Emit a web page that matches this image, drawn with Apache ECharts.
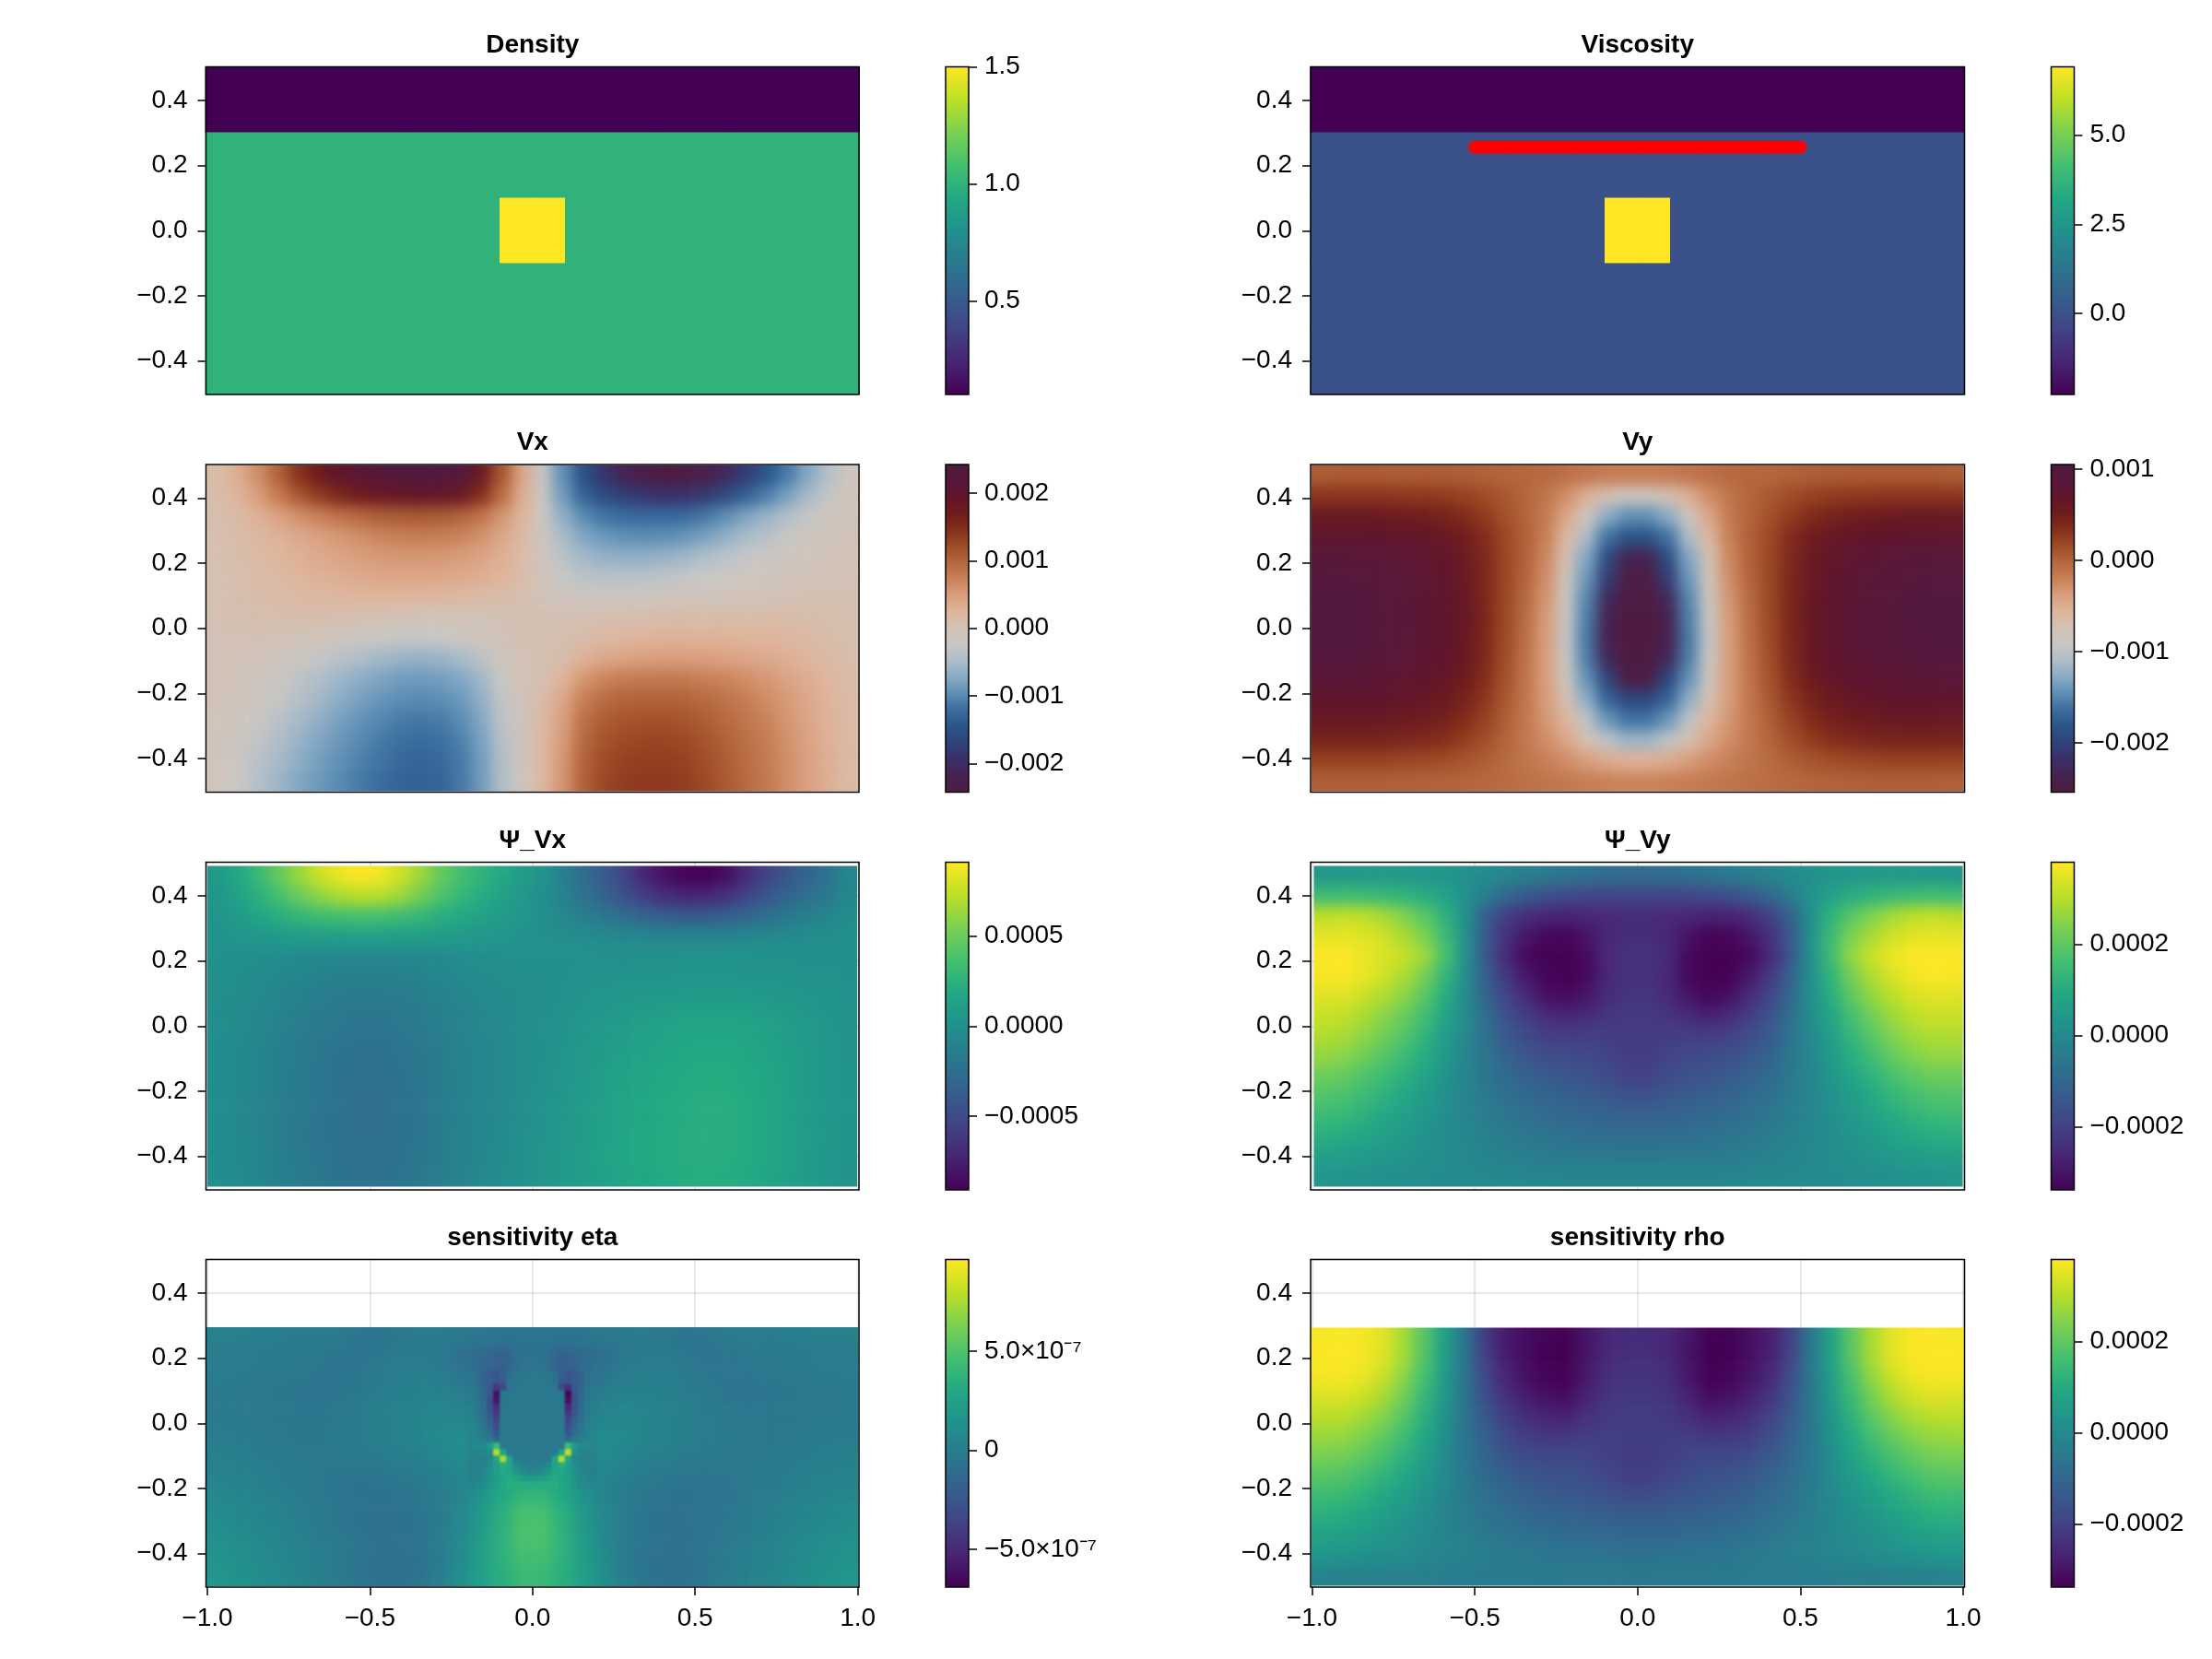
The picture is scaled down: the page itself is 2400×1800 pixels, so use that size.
<!DOCTYPE html>
<html><head><meta charset="utf-8"><style>html,body{margin:0;padding:0;background:#fff}#c{width:2400px;height:1800px}</style>
<script src="https://cdn.jsdelivr.net/npm/echarts@6/dist/echarts.min.js"></script></head>
<body><div id="c"></div><script>
const densityRows=[
[0.1,0.1,0.1,0.1,0.1,0.1,0.1,0.1,0.1,0.1,0.1,0.1,0.1,0.1,0.1,0.1,0.1,0.1,0.1,0.1],
[0.1,0.1,0.1,0.1,0.1,0.1,0.1,0.1,0.1,0.1,0.1,0.1,0.1,0.1,0.1,0.1,0.1,0.1,0.1,0.1],
[1,1,1,1,1,1,1,1,1,1,1,1,1,1,1,1,1,1,1,1],
[1,1,1,1,1,1,1,1,1,1,1,1,1,1,1,1,1,1,1,1],
[1,1,1,1,1,1,1,1,1,1.5,1.5,1,1,1,1,1,1,1,1,1],
[1,1,1,1,1,1,1,1,1,1.5,1.5,1,1,1,1,1,1,1,1,1],
[1,1,1,1,1,1,1,1,1,1,1,1,1,1,1,1,1,1,1,1],
[1,1,1,1,1,1,1,1,1,1,1,1,1,1,1,1,1,1,1,1],
[1,1,1,1,1,1,1,1,1,1,1,1,1,1,1,1,1,1,1,1],
[1,1,1,1,1,1,1,1,1,1,1,1,1,1,1,1,1,1,1,1]];
const viscosityRows=[
[-2.27,-2.27,-2.27,-2.27,-2.27,-2.27,-2.27,-2.27,-2.27,-2.27,-2.27,-2.27,-2.27,-2.27,-2.27,-2.27,-2.27,-2.27,-2.27,-2.27],
[-2.27,-2.27,-2.27,-2.27,-2.27,-2.27,-2.27,-2.27,-2.27,-2.27,-2.27,-2.27,-2.27,-2.27,-2.27,-2.27,-2.27,-2.27,-2.27,-2.27],
[0,0,0,0,0,0,0,0,0,0,0,0,0,0,0,0,0,0,0,0],
[0,0,0,0,0,0,0,0,0,0,0,0,0,0,0,0,0,0,0,0],
[0,0,0,0,0,0,0,0,0,6.92,6.92,0,0,0,0,0,0,0,0,0],
[0,0,0,0,0,0,0,0,0,6.92,6.92,0,0,0,0,0,0,0,0,0],
[0,0,0,0,0,0,0,0,0,0,0,0,0,0,0,0,0,0,0,0],
[0,0,0,0,0,0,0,0,0,0,0,0,0,0,0,0,0,0,0,0],
[0,0,0,0,0,0,0,0,0,0,0,0,0,0,0,0,0,0,0,0],
[0,0,0,0,0,0,0,0,0,0,0,0,0,0,0,0,0,0,0,0]];
const redLineX=[-0.5,0.5];
const redLineY=[0.256,0.256];
// Vx, in units of 1e-5
const vxRows=[
[12,32,62,100,142,172,195,213,226,234,238,236,225,178,112,40,-28,-95,-150,-185,-215,-232,-238,-236,-228,-205,-175,-145,-112,-75,-42,-10],
[10,25,48,78,110,135,155,170,180,186,190,188,180,145,92,32,-25,-85,-130,-155,-172,-185,-190,-188,-178,-158,-133,-108,-80,-53,-29,-8],
[7,15,28,44,60,74,86,96,104,108,110,108,101,84,56,22,-20,-65,-98,-115,-122,-125,-125,-122,-113,-97,-78,-60,-43,-28,-15,-5],
[5,11,19,28,37,46,54,62,69,74,76,75,70,60,40,16,-15,-50,-75,-88,-95,-97,-96,-90,-80,-65,-50,-38,-26,-16,-9,-2],
[5,10,16,23,30,37,43,49,53,56,56,55,51,44,31,13,-12,-38,-55,-63,-66,-66,-62,-56,-47,-37,-28,-20,-13,-8,-4,-1],
[4,8,13,18,24,29,33,37,40,41,41,40,37,33,24,11,-8,-27,-36,-39,-39,-37,-33,-28,-23,-18,-13,-9,-6,-3,-1,1],
[4,7,10,13,16,18,20,21,22,22,21,20,18,14,9,5,-2,-10,-14,-16,-15,-13,-11,-9,-7,-5,-3,-1,1,3,4,4],
[3,5,7,8,8,7,5,3,0,-3,-4,-4,-4,-2,2,3,3,3,4,6,8,9,10,11,12,12,12,12,11,10,8,6],
[2,2,1,-1,-4,-8,-13,-18,-23,-26,-26,-24,-20,-12,-2,3,4,6,12,18,22,25,27,28,28,27,25,23,20,16,12,8],
[1,-1,-5,-11,-19,-28,-38,-47,-55,-61,-63,-60,-52,-36,-12,2,4,12,28,38,44,48,50,50,49,46,42,37,31,24,17,10],
[0,-5,-12,-22,-33,-45,-57,-68,-77,-84,-86,-83,-75,-56,-22,-1,6,26,55,70,77,80,80,79,75,70,63,54,44,34,22,12],
[-2,-8,-16,-27,-40,-54,-68,-80,-90,-97,-100,-97,-88,-66,-30,-7,13,40,75,92,100,102,102,100,95,86,76,64,52,39,26,14],
[-4,-13,-25,-38,-52,-66,-80,-92,-102,-110,-113,-110,-98,-74,-35,-8,16,47,88,106,114,117,117,114,107,96,84,71,56,42,27,15],
[-6,-17,-31,-46,-60,-75,-88,-100,-110,-118,-122,-119,-107,-80,-40,-10,18,52,95,115,123,127,127,123,115,103,90,76,60,45,30,16],
[-8,-21,-37,-52,-67,-81,-94,-106,-116,-124,-129,-125,-112,-84,-43,-11,19,55,100,121,130,133,133,129,120,107,93,78,62,46,31,17],
[-10,-25,-42,-58,-75,-88,-100,-112,-122,-130,-134,-130,-114,-86,-46,-13,20,58,104,126,135,138,138,134,125,111,97,81,64,48,32,17]];
// Vy, in units of 1e-5
const vyRows=[
[4,5,5,5,5,5,4,3,1,-1,-2,-4,-8,-12,-16,-18,-18,-16,-12,-8,-4,-2,-1,1,3,4,5,5,5,5,5,4],
[30,30,30,30,29,28,26,22,16,8,-1,-12,-28,-52,-72,-85,-85,-72,-52,-28,-12,-1,8,16,22,26,28,29,30,30,30,30],
[60,60,59,57,54,50,45,37,26,13,0,-16,-45,-85,-125,-145,-145,-125,-85,-45,-16,0,13,26,37,45,50,54,57,59,60,60],
[74,75,74,72,70,66,60,50,36,18,2,-20,-60,-110,-160,-182,-182,-160,-110,-60,-20,2,18,36,50,60,66,70,72,74,75,75],
[87,87,86,84,80,76,68,57,40,20,2,-24,-72,-130,-190,-235,-235,-190,-130,-72,-24,2,20,40,57,68,76,80,84,87,88,88],
[95,94,92,89,85,80,72,60,42,20,0,-28,-82,-140,-205,-250,-250,-205,-140,-82,-28,0,20,42,60,72,80,85,89,92,95,96],
[100,98,95,91,86,81,73,61,42,19,-4,-32,-88,-150,-225,-253,-253,-225,-150,-88,-32,-4,19,42,61,73,81,86,91,95,99,100],
[102,100,97,92,87,81,73,62,42,18,-6,-36,-93,-155,-238,-254,-254,-238,-155,-93,-36,-6,18,42,62,74,82,88,93,97,101,102],
[101,99,96,91,86,80,73,61,41,17,-8,-38,-96,-158,-240,-254,-254,-240,-158,-96,-38,-8,17,41,61,74,82,88,92,96,100,101],
[95,94,92,88,84,78,71,59,39,15,-10,-38,-93,-155,-228,-253,-253,-228,-155,-93,-38,-10,15,39,59,72,80,85,89,92,95,96],
[84,84,83,81,77,72,65,53,35,12,-12,-38,-85,-143,-195,-248,-248,-195,-143,-85,-38,-12,12,35,53,65,73,78,81,83,84,85],
[73,73,72,71,68,63,56,45,29,8,-13,-37,-72,-125,-170,-195,-195,-170,-125,-72,-37,-13,8,29,45,56,63,68,71,73,73,73],
[60,60,60,59,56,52,46,36,22,4,-14,-33,-58,-100,-140,-160,-160,-140,-100,-58,-33,-14,4,22,36,46,52,56,59,60,60,60],
[45,45,45,44,42,38,33,25,14,0,-14,-28,-45,-72,-100,-118,-118,-100,-72,-45,-28,-14,0,14,25,33,38,42,44,45,45,45],
[22,22,22,22,20,18,15,10,4,-4,-12,-20,-28,-38,-48,-55,-55,-48,-38,-28,-20,-12,-4,4,10,15,18,20,22,22,22,22],
[3,3,3,3,3,2,1,0,-2,-5,-8,-11,-14,-17,-20,-22,-22,-20,-17,-14,-11,-8,-5,-2,0,1,2,3,3,3,3,3]];
// Psi_Vx, in units of 1e-6
const psiVxRows=[
[60,170,310,470,620,770,860,905,880,780,640,470,360,260,180,90,10,-130,-270,-390,-540,-720,-830,-890,-905,-850,-700,-560,-440,-330,-230,-90],
[40,125,235,365,490,600,680,720,710,640,520,390,290,205,130,50,-10,-115,-220,-335,-465,-580,-675,-725,-715,-655,-550,-430,-335,-250,-175,-70],
[30,85,155,225,285,330,360,370,365,335,285,225,175,125,80,30,-10,-70,-135,-200,-265,-320,-365,-395,-395,-365,-310,-250,-190,-135,-90,-40],
[10,30,50,70,85,100,110,120,120,110,100,90,70,50,30,10,-5,-25,-45,-60,-70,-80,-90,-95,-95,-90,-80,-70,-55,-40,-25,-10],
[0,-5,-15,-30,-45,-60,-70,-75,-75,-70,-60,-45,-30,-20,-15,-10,-10,-10,-10,-5,-5,0,0,5,5,5,5,0,0,0,0,0],
[-10,-25,-45,-70,-90,-110,-125,-130,-130,-120,-105,-85,-65,-45,-35,-25,-15,-5,5,10,15,20,25,30,30,30,25,20,15,10,5,0],
[-15,-35,-60,-90,-115,-140,-160,-165,-165,-155,-135,-110,-85,-65,-45,-30,-15,0,15,30,45,55,65,75,80,80,70,60,45,30,20,5],
[-20,-45,-75,-105,-135,-165,-185,-195,-195,-185,-160,-130,-100,-75,-55,-35,-15,5,25,50,75,100,120,135,145,145,130,110,85,60,35,10],
[-20,-50,-80,-115,-150,-180,-200,-215,-215,-200,-175,-140,-110,-80,-60,-35,-10,15,40,70,100,125,145,160,170,170,155,130,100,70,40,15],
[-25,-55,-90,-125,-160,-190,-215,-225,-225,-210,-185,-150,-120,-85,-60,-30,-5,25,55,90,120,145,165,180,190,190,175,145,115,80,45,15],
[-25,-55,-90,-130,-165,-195,-220,-235,-235,-220,-190,-155,-125,-90,-60,-30,0,30,65,100,135,160,180,195,205,205,190,160,125,85,50,20],
[-25,-55,-95,-135,-170,-200,-225,-240,-240,-225,-195,-160,-125,-90,-55,-25,5,35,70,110,145,170,190,205,215,215,195,165,130,90,50,20],
[-25,-60,-95,-135,-170,-205,-230,-240,-240,-225,-195,-160,-125,-90,-55,-20,10,45,80,115,150,175,195,210,220,220,200,170,130,90,50,20],
[-25,-60,-95,-135,-175,-205,-230,-240,-240,-225,-195,-160,-120,-85,-50,-15,15,50,85,120,155,180,200,215,225,222,205,170,135,92,52,22],
[-25,-55,-90,-130,-170,-200,-225,-235,-235,-220,-190,-155,-115,-80,-45,-10,20,55,90,125,155,180,200,215,222,220,200,170,132,90,50,20],
[-20,-50,-85,-125,-160,-190,-215,-225,-225,-210,-180,-145,-110,-75,-40,-5,25,55,90,120,150,175,195,205,212,210,192,162,125,85,48,18]];
// Psi_Vy, in units of 1e-6
const psiVyRows=[
[35,42,45,45,42,38,30,15,0,-15,-30,-45,-60,-72,-82,-88,-88,-82,-72,-60,-45,-30,-15,0,15,30,38,42,45,45,42,35],
[150,155,150,140,125,105,70,20,-40,-100,-140,-165,-180,-190,-195,-195,-195,-195,-190,-180,-165,-140,-100,-40,20,70,105,125,140,150,155,150],
[305,315,305,280,240,190,120,15,-125,-210,-245,-265,-270,-262,-255,-250,-250,-255,-262,-272,-268,-245,-205,-120,15,120,190,240,280,305,315,305],
[350,355,345,325,285,235,145,15,-140,-240,-300,-325,-330,-300,-265,-250,-250,-265,-305,-335,-330,-300,-240,-140,15,145,235,285,325,345,355,350],
[378,380,360,340,315,270,165,20,-150,-255,-325,-338,-338,-320,-255,-240,-240,-258,-325,-338,-338,-325,-260,-150,15,150,260,320,360,378,380,378],
[370,375,355,325,285,225,130,10,-125,-225,-295,-330,-338,-320,-260,-240,-240,-265,-325,-338,-335,-290,-220,-120,15,125,225,290,335,365,378,372],
[345,345,320,290,250,190,100,5,-105,-195,-255,-310,-320,-295,-250,-232,-232,-255,-300,-330,-310,-250,-190,-100,10,105,195,260,305,335,348,345],
[320,312,285,250,210,155,75,0,-85,-165,-215,-250,-265,-250,-228,-220,-220,-232,-255,-275,-250,-210,-160,-80,5,80,160,220,270,305,320,318],
[295,285,255,220,180,125,55,-10,-75,-140,-180,-205,-210,-208,-212,-218,-218,-212,-208,-210,-200,-175,-135,-70,-5,60,130,190,240,275,292,292],
[262,250,220,185,145,100,40,-15,-65,-115,-150,-170,-175,-180,-195,-212,-212,-195,-180,-175,-165,-145,-110,-60,-10,45,105,155,205,240,260,260],
[215,205,178,148,112,75,25,-20,-60,-95,-120,-135,-148,-158,-175,-200,-200,-175,-158,-148,-132,-115,-90,-55,-15,30,80,120,165,195,215,215],
[180,170,145,115,85,50,15,-20,-50,-78,-98,-112,-122,-132,-145,-160,-160,-145,-132,-122,-110,-95,-75,-45,-15,20,55,92,130,158,178,180],
[145,135,112,88,62,35,8,-15,-40,-60,-75,-88,-96,-104,-112,-118,-118,-112,-104,-96,-86,-73,-58,-38,-12,12,40,68,95,122,142,145],
[107,98,82,65,45,25,5,-10,-27,-42,-55,-65,-72,-78,-82,-85,-85,-82,-78,-72,-63,-53,-40,-25,-8,8,28,48,70,90,105,107],
[65,60,50,40,28,16,4,-7,-18,-28,-36,-42,-47,-50,-53,-54,-54,-53,-50,-47,-42,-35,-27,-17,-5,6,18,30,43,55,63,65],
[30,27,22,18,13,8,3,-2,-6,-9,-12,-14,-15,-16,-17,-17,-17,-17,-16,-15,-14,-12,-9,-6,-2,3,8,13,18,22,27,30]];
// sensitivity eta, in units of 1e-9
const etaRows=[
[15,15,10,5,0,-5,-15,-40,-55,-30,-10,-15,-30,-45,-55,-50,-50,-55,-45,-30,-15,-10,-30,-55,-40,-15,-5,0,5,10,15,15],
[-5,-5,-10,-15,-25,-35,-50,-55,-30,-5,-10,-30,-90,-125,-190,-70,-70,-190,-125,-90,-30,-10,-5,-30,-55,-50,-35,-25,-15,-10,-5,-5],
[-10,-15,-20,-25,-35,-40,-50,-35,-10,10,15,-5,-40,-120,-230,-40,-40,-230,-120,-40,-5,15,10,-10,-35,-50,-40,-35,-25,-20,-15,-10],
[-15,-20,-25,-30,-40,-45,-40,-15,5,25,35,40,25,-60,-130,-25,-25,-130,-60,25,40,35,25,5,-15,-40,-45,-40,-30,-25,-20,-15],
[-15,-20,-25,-30,-35,-35,-20,0,15,35,55,70,60,-20,-100,-25,-25,-100,-20,60,70,55,35,15,0,-20,-35,-35,-30,-25,-20,-15],
[-5,-10,-15,-25,-30,-30,-15,0,15,35,60,85,110,70,-40,-25,-25,-40,70,110,85,60,35,15,0,-15,-30,-30,-25,-15,-10,-5],
[15,10,0,-10,-20,-25,-25,-15,0,15,30,55,90,150,220,60,60,220,150,90,55,30,15,0,-15,-25,-25,-20,-10,0,10,15],
[40,30,15,0,-15,-25,-40,-45,-40,-30,-10,20,60,130,260,200,200,260,130,60,20,-10,-30,-40,-45,-40,-25,-15,0,15,30,40],
[70,55,35,15,-5,-25,-45,-60,-65,-55,-35,-5,50,150,300,400,400,300,150,50,-5,-35,-55,-65,-60,-45,-25,-5,15,35,55,70],
[100,80,60,35,10,-15,-40,-60,-70,-65,-45,-5,70,190,350,480,480,350,190,70,-5,-45,-65,-70,-60,-40,-15,10,35,60,80,100],
[125,105,80,55,25,0,-30,-55,-75,-70,-50,-5,85,210,360,490,490,360,210,85,-5,-50,-70,-75,-55,-30,0,25,55,80,105,125],
[150,125,100,70,40,10,-20,-50,-75,-75,-55,0,100,225,360,460,460,360,225,100,0,-55,-75,-75,-50,-20,10,40,70,100,125,150],
[170,140,115,85,50,20,-10,-45,-75,-75,-50,10,115,235,340,420,420,340,235,115,10,-50,-75,-75,-45,-10,20,50,85,115,140,170]];
// fine cells around the block in sensitivity eta (x -0.2..0.2, y 0.16..-0.2), units of 1e-9
const etaDetailRows=[
[-50,-90,-145,-225,-240,-180,-90,-50,-35,-30,-30,-35,-50,-90,-180,-240,-225,-145,-90,-50],
[-40,-85,-160,-200,-250,-230,-70,-40,-28,-25,-25,-28,-40,-70,-230,-250,-200,-160,-85,-40],
[-25,-70,-150,-230,-420,-310,-40,-28,-25,-25,-25,-25,-28,-40,-330,-440,-230,-150,-70,-25],
[-10,-55,-130,-240,-620,-30,-25,-25,-25,-25,-25,-25,-25,-25,-30,-660,-240,-130,-55,-10],
[0,-40,-120,-280,-590,-28,-25,-25,-25,-25,-25,-25,-25,-25,-28,-620,-280,-120,-40,0],
[15,-30,-110,-270,-480,-28,-25,-25,-25,-25,-25,-25,-25,-25,-28,-500,-270,-110,-30,15],
[30,-15,-95,-240,-420,-25,-25,-25,-25,-25,-25,-25,-25,-25,-25,-420,-240,-95,-15,30],
[40,0,-75,-190,-360,-25,-25,-25,-25,-25,-25,-25,-25,-25,-25,-360,-190,-75,0,40],
[50,15,-50,-140,-300,-25,-25,-25,-25,-25,-25,-25,-25,-25,-25,-300,-140,-50,15,50],
[60,30,-25,-90,-240,-25,-25,-25,-25,-25,-25,-25,-25,-25,-25,-240,-90,-25,30,60],
[70,50,10,-30,-120,-25,-25,-25,-25,-25,-25,-25,-25,-25,-25,-120,-30,10,50,70],
[70,75,90,200,430,-25,-25,-25,-25,-25,-25,-25,-25,-25,-25,430,200,90,75,70],
[50,60,60,110,780,250,-25,-25,-25,-25,-25,-25,-25,-25,250,800,110,60,60,50],
[30,45,30,70,280,760,280,-15,-20,-20,-20,-20,-15,280,780,280,70,30,45,30],
[25,30,40,110,230,330,280,100,40,20,20,40,100,280,330,230,110,40,30,25],
[25,40,70,140,220,290,280,190,100,60,60,100,190,280,290,220,140,70,40,25],
[30,55,85,150,230,280,310,280,230,210,210,230,280,310,280,230,150,85,55,30],
[50,80,100,170,250,300,340,350,340,330,330,340,350,340,300,250,170,100,80,50]];
const etaDetailX=[-0.2,0.2];
const etaDetailY=[-0.2,0.16];
// sensitivity rho, in units of 1e-6
const rhoRows=[
[372,378,372,350,285,190,70,-60,-210,-285,-315,-330,-335,-300,-265,-250,-250,-262,-295,-335,-335,-310,-280,-205,-55,75,195,290,352,374,378,372],
[378,380,372,345,280,185,65,-60,-200,-280,-315,-335,-338,-300,-258,-240,-240,-258,-300,-338,-335,-310,-275,-195,-55,70,190,285,350,375,380,378],
[368,372,358,320,255,165,55,-60,-180,-262,-305,-330,-335,-290,-245,-232,-232,-245,-290,-335,-330,-300,-258,-175,-55,60,170,260,325,362,372,368],
[340,342,322,285,225,140,45,-60,-160,-235,-280,-305,-315,-270,-232,-222,-222,-232,-270,-315,-305,-275,-230,-155,-55,50,145,230,290,328,345,342],
[305,302,282,245,190,115,30,-60,-140,-205,-245,-265,-270,-240,-220,-212,-212,-220,-240,-270,-262,-240,-200,-135,-55,35,120,195,250,288,305,305],
[270,265,240,205,155,90,18,-60,-120,-175,-208,-220,-218,-210,-208,-208,-208,-208,-210,-218,-218,-205,-170,-115,-55,22,95,160,210,245,268,270],
[232,225,200,165,120,68,8,-55,-105,-148,-175,-185,-185,-190,-205,-212,-212,-205,-190,-185,-182,-170,-142,-100,-50,12,72,125,170,205,228,232],
[190,182,158,125,88,45,0,-50,-90,-122,-145,-155,-160,-170,-188,-205,-205,-188,-170,-160,-152,-140,-118,-85,-45,5,50,92,130,165,188,190],
[150,140,118,90,58,25,-10,-45,-75,-100,-120,-130,-138,-148,-158,-170,-170,-158,-148,-138,-128,-115,-95,-70,-40,-5,30,62,95,125,148,150],
[112,103,84,60,35,10,-15,-40,-62,-80,-95,-105,-112,-118,-125,-130,-130,-125,-118,-112,-103,-92,-76,-58,-35,-10,15,40,65,90,110,112],
[72,66,52,36,20,2,-15,-32,-47,-60,-72,-80,-85,-90,-94,-97,-97,-94,-90,-85,-79,-70,-57,-43,-28,-12,6,24,40,58,72,72],
[32,28,20,12,3,-7,-17,-27,-36,-44,-50,-55,-60,-63,-66,-67,-67,-66,-63,-60,-54,-48,-42,-33,-24,-14,-4,6,16,25,32,32],
[-20,-22,-25,-27,-30,-32,-34,-36,-38,-40,-42,-44,-45,-46,-46,-47,-47,-46,-46,-45,-44,-42,-40,-38,-36,-34,-32,-30,-27,-25,-22,-20]];

const xTickValues=[-1,-0.5,0,0.5,1];
const xTickLabels=['−1.0','−0.5','0.0','0.5','1.0'];
const yTickValues=[-0.4,-0.2,0,0.2,0.4];
const yTickLabels=['−0.4','−0.2','0.0','0.2','0.4'];

const viridis=['#440154','#482475','#414487','#355f8d','#2a788e','#21918c','#22a884','#44bf70','#7ad151','#bddf26','#fde725'];
const vikO=['#4f1b41','#452351','#3b2e68','#2f4278','#2a5589','#3a6c9e','#5c8eb4','#86a9c5','#adbdc9','#c9c7c4','#d2c2b6','#dfb59c','#d99f7e','#c98158','#b6683f','#9f4d27','#852f1b','#6f1c1d','#621529','#58173a','#4f1a3e'];

const colLeft=[223.5,1422], colW=[708.5,709.5], plotH=355.5;
const rowTop=[72.5,504,935.5,1366.5];
const barLeft=[1026,2225.5], barW=25;
const XR=1.004, YR=0.503;
const FONT='"Liberation Sans", Arial, sans-serif';
const SMOOTH=1, SMOOTH_ETA=3, DETAIL=4, FRONT=5;   // canvas layers
const PAD=2;                                       // cells repeated past the edge so the softening does not fade out there

const panels=[
 {title:'Density',c:0,r:0,rows:densityRows,scale:1,min:0.1,max:1.5,map:viridis,ticks:[0.5,1,1.5],labels:['0.5','1.0','1.5'],layer:0,cell:[35.5,35.5]},
 {title:'Viscosity',c:1,r:0,rows:viscosityRows,scale:1,min:-2.27,max:6.92,map:viridis,ticks:[0,2.5,5],labels:['0.0','2.5','5.0'],layer:0,cell:[35.5,35.5]},
 {title:'Vx',c:0,r:1,rows:vxRows,scale:1e-5,min:-0.00242,max:0.00242,map:vikO,ticks:[-0.002,-0.001,0,0.001,0.002],labels:['−0.002','−0.001','0.000','0.001','0.002'],inset:[1,1,1,1],layer:SMOOTH},
 {title:'Vy',c:1,r:1,rows:vyRows,scale:1e-5,min:-0.00254,max:0.00105,map:vikO,ticks:[-0.002,-0.001,0,0.001],labels:['−0.002','−0.001','0.000','0.001'],inset:[1,1,1,1],layer:SMOOTH},
 {title:'Ψ_Vx',c:0,r:2,rows:psiVxRows,scale:1e-6,min:-0.00091,max:0.00091,map:viridis,ticks:[-0.0005,0,0.0005],labels:['−0.0005','0.0000','0.0005'],inset:[4,2,3.5,1.5],layer:SMOOTH},
 {title:'Ψ_Vy',c:1,r:2,rows:psiVyRows,scale:1e-6,min:-0.000338,max:0.00038,map:viridis,ticks:[-0.0002,0,0.0002],labels:['−0.0002','0.0000','0.0002'],inset:[4,2,3.5,3.5],layer:SMOOTH},
 {title:'sensitivity eta',c:0,r:3,rows:etaRows,scale:1e-9,min:-6.9e-7,max:9.64e-7,map:viridis,ticks:[-5e-7,0,5e-7],labels:['−5.0×10⁻⁷','0','5.0×10⁻⁷'],inset:[74,1,1.5,1],layer:SMOOTH_ETA},
 {title:'sensitivity rho',c:1,r:3,rows:rhoRows,scale:1e-6,min:-0.000338,max:0.00038,map:viridis,ticks:[-0.0002,0,0.0002],labels:['−0.0002','0.0000','0.0002'],inset:[74,1,1.5,1],layer:SMOOTH}
];

function labeler(vals,labs){return v=>{let b=0;vals.forEach((t,i)=>{if(Math.abs(t-v)<Math.abs(vals[b]-v))b=i;});return labs[b];};}
const grid=[],xAxis=[],yAxis=[],series=[],visualMap=[],title=[];
const tickStyle={show:true,length:9,inside:false,lineStyle:{color:'#000',width:1.5}};
const labelStyle={color:'#000',fontFamily:FONT,fontSize:28};
const noLine={show:false,onZero:false};
const clips={};

panels.forEach((p,i)=>{
  const L=colLeft[p.c],W=colW[p.c],T=rowTop[p.r],bottomRow=p.r===3;
  const f=grid.length;
  const frame={show:true,backgroundColor:'transparent',borderColor:'#000',borderWidth:1.5,z:10,zlevel:FRONT};
  grid.push(Object.assign({left:L,top:T,width:W,height:plotH},frame));
  const nx=p.rows[0].length,ny=p.rows.length;
  let pad=0;
  if(p.layer){
    pad=PAD;
    const [it,ir,ib,il]=p.inset;
    const iw=W-il-ir, ih=plotH-it-ib, cw=iw/nx, ch=ih/ny;
    grid.push({left:L+il-pad*cw,top:T+it-pad*ch,width:iw+2*pad*cw,height:ih+2*pad*ch});
    (clips[p.layer]=clips[p.layer]||[]).push(`M${L+il} ${T+it}h${iw}v${ih}h${-iw}Z`);
  } else {
    const gw=p.cell[0]*nx, gh=p.cell[1]*ny;
    grid.push({left:L+W/2-gw/2,top:T+plotH/2-gh/2,width:gw,height:gh});
  }
  grid.push(Object.assign({left:barLeft[p.c],top:T,width:barW,height:plotH},frame));
  xAxis.push({gridIndex:f,type:'value',min:-XR,max:XR,position:'bottom',axisLine:noLine,
    axisTick:Object.assign({},tickStyle,{show:bottomRow,customValues:xTickValues}),
    axisLabel:Object.assign({},labelStyle,{show:bottomRow,margin:20,customValues:xTickValues,formatter:labeler(xTickValues,xTickLabels),hideOverlap:false}),
    splitLine:{show:true,lineStyle:{color:'rgba(0,0,0,0.12)',width:1.5}}});
  yAxis.push({gridIndex:f,type:'value',min:-YR,max:YR,position:'left',axisLine:noLine,
    axisTick:Object.assign({},tickStyle,{customValues:yTickValues}),
    axisLabel:Object.assign({},labelStyle,{margin:20,padding:[5,0,0,0],customValues:yTickValues,formatter:labeler(yTickValues,yTickLabels)}),
    splitLine:{show:true,lineStyle:{color:'rgba(0,0,0,0.12)',width:1.5}}});
  const cx=[],cy=[];
  for(let k=0;k<nx+2*pad;k++)cx.push(String(k));
  for(let k=0;k<ny+2*pad;k++)cy.push(String(k));
  xAxis.push({gridIndex:f+1,type:'category',show:false,boundaryGap:true,data:cx});
  yAxis.push({gridIndex:f+1,type:'category',show:false,boundaryGap:true,data:cy});
  xAxis.push({gridIndex:f+2,type:'value',show:false,min:0,max:1,axisLine:noLine});
  yAxis.push({gridIndex:f+2,type:'value',min:p.min,max:p.max,position:'right',axisLine:noLine,
    axisTick:Object.assign({},tickStyle,{customValues:p.ticks}),
    axisLabel:Object.assign({},labelStyle,{margin:17,padding:[5,0,0,0],customValues:p.ticks,formatter:labeler(p.ticks,p.labels)}),
    splitLine:{show:false}});
  const data=[];
  for(let j=-pad;j<ny+pad;j++)for(let k=-pad;k<nx+pad;k++){
    const row=p.rows[Math.min(ny-1,Math.max(0,j))];
    const v=row[Math.min(nx-1,Math.max(0,k))];
    data.push([k+pad,ny-1-j+pad,v*p.scale]);
  }
  series.push({type:'heatmap',name:p.title,xAxisIndex:f+1,yAxisIndex:f+1,data,progressive:0,animation:false,silent:true,zlevel:p.layer,emphasis:{disabled:true}});
  visualMap.push({type:'continuous',seriesIndex:i,dimension:2,min:p.min,max:p.max,inRange:{color:p.map},left:barLeft[p.c],top:T,itemWidth:barW,itemHeight:plotH,padding:0,text:null,calculable:false,hoverLink:false,realtime:false,z:4});
  title.push({text:p.title,left:L+W/2,top:T-37.5,textAlign:'center',padding:0,textStyle:{fontFamily:FONT,fontSize:28,fontWeight:'bold',color:'#000'}});
});
const viscFrame=3;
series.push({type:'line',name:'Viscosity segment',xAxisIndex:viscFrame,yAxisIndex:viscFrame,data:redLineX.map((x,i)=>[x,redLineY[i]]),symbol:'none',silent:true,zlevel:FRONT,z:5,lineStyle:{color:'#ff0000',width:14,cap:'round'},animation:false});

// fine cells laid over the eta panel
(function(){
  const etaIndex=panels.findIndex(p=>p.rows===etaRows), p=panels[etaIndex];
  const L=colLeft[p.c],W=colW[p.c],T=rowTop[p.r];
  const px=x=>L+(x+XR)/(2*XR)*W, py=y=>T+(YR-y)/(2*YR)*plotH;
  const g=grid.length, ny=etaDetailRows.length, nx=etaDetailRows[0].length;
  grid.push({left:px(etaDetailX[0]),top:py(etaDetailY[1]),width:px(etaDetailX[1])-px(etaDetailX[0]),height:py(etaDetailY[0])-py(etaDetailY[1])});
  xAxis.push({gridIndex:g,type:'category',show:false,boundaryGap:true,data:etaDetailRows[0].map((_,k)=>String(k))});
  yAxis.push({gridIndex:g,type:'category',show:false,boundaryGap:true,data:etaDetailRows.map((_,k)=>String(k))});
  const data=[];
  etaDetailRows.forEach((row,j)=>row.forEach((v,k)=>data.push([k,ny-1-j,v*p.scale])));
  const idx=xAxis.length-1;
  series.push({type:'heatmap',name:'sensitivity eta detail',xAxisIndex:idx,yAxisIndex:idx,data,progressive:0,animation:false,silent:true,zlevel:DETAIL,emphasis:{disabled:true}});
  visualMap[etaIndex].seriesIndex=[etaIndex,series.length-1];
})();

const chart=echarts.init(document.getElementById('c'),null,{renderer:'canvas',width:2400,height:1800});
chart.setOption({animation:false,backgroundColor:'#fff',title,grid,xAxis,yAxis,visualMap,series});
// soften the cell edges of the smooth fields; each zlevel is its own canvas
function soften(){
  [[SMOOTH,7.5],[SMOOTH_ETA,7],[DETAIL,1.3]].forEach(([layer,px])=>{
    const cv=document.querySelector(`canvas[data-zr-dom-id="zr_${layer}"]`);
    if(cv){cv.style.filter=`blur(${px}px)`;if(clips[layer])cv.style.clipPath=`path("${clips[layer].join('')}")`;}
  });
}
soften();
chart.on('finished',soften);
</script></body></html>
